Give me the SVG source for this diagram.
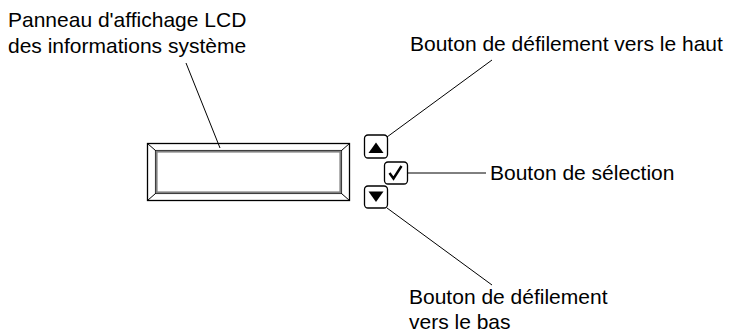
<svg xmlns="http://www.w3.org/2000/svg" width="734" height="333" viewBox="0 0 734 333">
<style>
text{font-family:"Liberation Sans",Arial,sans-serif;font-size:21px;fill:#000}
.ln{stroke:#000;stroke-width:1;fill:none}
.btn{fill:#fff;stroke:#000;stroke-width:1.3}
</style>
<rect width="734" height="333" fill="#fff"/>
<g id="lcd">
<rect x="147.5" y="143.5" width="202" height="57" fill="#fff" stroke="#000" stroke-width="1.3"/>
<rect x="156.5" y="151.5" width="184" height="41" fill="#fff" stroke="#808080" stroke-width="2.2"/>
<rect x="155.3" y="150.3" width="186.4" height="43.4" fill="none" stroke="#000" stroke-width="0.7"/>
<path class="ln" d="M147.5,143.5L155.5,150.5M349.5,143.5L341.5,150.5M147.5,200.5L155.5,193.5M349.5,200.5L341.5,193.5"/>
</g>
<g id="btn-up">
<rect class="btn" x="364.5" y="135" width="23" height="23" rx="3.5"/>
<polygon points="376,142.5 383.5,153 368.5,153" fill="#000"/>
</g>
<g id="btn-select">
<rect class="btn" x="384.5" y="162" width="23" height="22" rx="3.5"/>
<path d="M389.5,173 L393.5,178.5 L401.5,166" fill="none" stroke="#000" stroke-width="2.4" stroke-linejoin="miter"/>
</g>
<g id="btn-down">
<rect class="btn" x="364.5" y="186" width="23" height="22" rx="3.5"/>
<polygon points="368.5,191.5 383.5,191.5 376,202" fill="#000"/>
</g>
<g id="connectors">
<line class="ln" x1="186" y1="63" x2="220" y2="148"/>
<line class="ln" x1="492" y1="60" x2="387" y2="137"/>
<line class="ln" x1="408" y1="173" x2="486" y2="173"/>
<line class="ln" x1="387" y1="208" x2="492" y2="285"/>
</g>
<g id="labels">
<text x="8" y="27">Panneau d'affichage LCD</text>
<text x="8" y="53">des informations système</text>
<text x="410" y="51">Bouton de défilement vers le haut</text>
<text x="490" y="180">Bouton de sélection</text>
<text x="409" y="304">Bouton de défilement</text>
<text x="409" y="329">vers le bas</text>
</g>
</svg>
